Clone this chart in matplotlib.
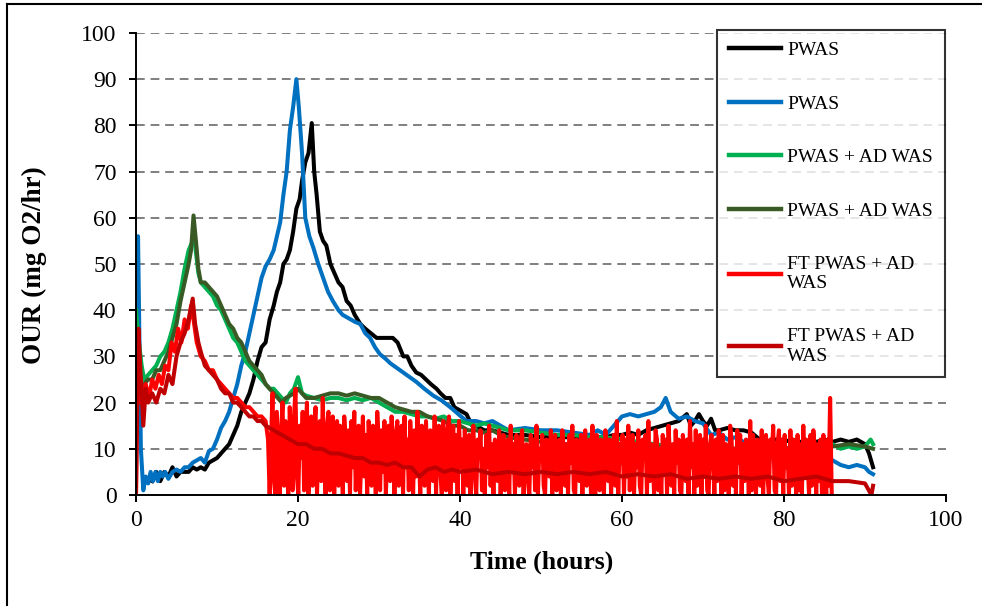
import numpy as np
import matplotlib
matplotlib.use("Agg")
import matplotlib.pyplot as plt

plt.rcParams['font.family'] = ['Liberation Serif', 'DejaVu Serif']

# --- OUR data (time in hours, OUR in mg O2/hr) ---
labels = ["PWAS", "PWAS", "PWAS + AD WAS", "PWAS + AD WAS",
          "FT PWAS + AD\nWAS", "FT PWAS + AD\nWAS"]
colors = ["#000000", "#0070C0", "#00B050", "#3A5A25", "#FF0000", "#C00000"]

pwas1_t = [2, 2.5, 3, 3.5, 4, 4.5, 5, 5.5, 6, 6.5, 7, 7.5, 8, 8.5, 9, 9.5, 10, 10.5, 11, 11.5,
           12, 12.5, 13, 13.5, 14, 14.5, 15, 15.5, 16, 16.5, 17, 17.4, 17.8, 18.2, 18.6, 19, 19.4,
           19.8, 20.2, 20.5, 20.9, 21.3, 21.7, 22, 22.3, 22.7, 23.1, 23.5, 24, 24.5, 25, 25.5, 26,
           26.5, 27, 27.7, 28.3, 29, 29.7, 30.5, 31, 31.7, 32.3, 33, 33.5, 34, 34.6, 35.2, 35.8,
           36.4, 37.1, 37.6, 38.2, 38.8, 39.3, 39.8, 40.3, 40.8, 41.5, 42, 43, 44, 45, 46, 48, 50,
           52, 54, 56, 58, 59, 60, 61, 62, 63, 64, 65, 66, 67, 68, 68.5, 69, 69.5, 70, 70.5, 71,
           71.5, 72, 73, 74, 75, 76, 77, 78, 79, 80, 81, 82, 83, 84, 85, 86, 87, 88, 89, 90, 90.5, 91]
pwas1_v = [3, 5, 3, 5, 4, 6, 4, 5, 5, 5, 6, 5.5, 6, 5.5, 7, 7.5, 8, 9, 10, 11,
           13, 15, 18, 20, 22, 25, 29, 32, 33, 38, 41, 44, 46, 50, 51, 53, 57,
           62, 64, 68, 72, 74, 80.5, 70, 65, 57, 55, 54, 50, 48, 46, 45, 42,
           41, 39, 37, 36, 35, 34, 34, 34, 34, 33, 30, 30, 28, 26.5, 26, 25,
           24, 23, 22, 21, 21, 19, 18.5, 18, 17.5, 15, 15, 14, 14, 13.5, 13, 13, 12.5,
           12.5, 12.5, 12.5, 12.5, 13, 13, 13.5, 13, 14, 14.5, 15, 15.5, 16, 17.5, 15, 16, 17.5, 16, 15, 16.5,
           14, 14, 14.5, 14, 14, 13.5, 12, 11.5, 12, 11.5, 12, 11.5, 11.5, 11.5, 12, 11.5, 12, 11.5, 12, 11, 9, 6]

pwas2_t = [0, 0.1, 0.25, 0.45, 0.6, 0.9, 1.2, 1.5, 1.8, 2.1, 2.4, 2.7, 3, 3.3, 3.6, 4, 4.5, 5, 5.5,
           6, 6.5, 7, 7.5, 8, 8.5, 9, 9.5, 10, 10.5, 11, 11.5, 12, 12.5, 13, 13.5, 14, 14.5, 15,
           15.5, 16, 16.5, 17, 17.4, 17.8, 18.2, 18.6, 19, 19.4, 19.8, 20.1, 20.5, 20.9, 21.4, 21.9,
           22.5, 23.1, 23.7, 24.3, 25, 25.5, 26, 26.5, 27, 27.7, 28.3, 28.9, 29.5, 30.1, 30.8, 31.4,
           32.2, 33, 33.8, 34.6, 35.6, 36.7, 37.7, 38.8, 39.8, 40.8, 42, 43, 44, 45, 46, 48, 50, 52,
           54, 56, 57, 58, 59, 60, 61, 62, 63, 64, 64.8, 65.4, 66, 67, 68, 69, 70, 71, 72, 73, 74,
           75, 76, 77, 78, 79, 80, 82, 84, 86, 87, 88, 89, 90, 90.5, 91]
pwas2_v = [40, 50, 56, 30, 10, 1, 4, 2.5, 5, 3, 5, 3, 5, 4, 5, 3.5, 5, 5.5, 5,
           6, 6, 7, 7.5, 8, 7, 9.5, 10, 12, 14.5, 16, 18, 21, 24, 28, 31, 35, 39, 43,
           47, 49.5, 51, 53, 56, 59, 65, 70, 79, 84, 90, 84, 74, 60, 56, 53.5,
           50, 47, 44, 42, 40, 39, 38.5, 38, 37.5, 37, 35, 34, 32, 30.5, 29.5, 28.5,
           27.5, 26.5, 25.5, 24.5, 23, 21.5, 20.5, 19, 17.5, 16, 16, 15.5, 16, 15, 14, 14.5, 14, 14,
           13.5, 13, 14, 13, 15, 17, 17.5, 17, 17.5, 18, 19, 21, 18, 16.5, 17, 16, 15.5, 13, 13.5, 12, 12.5,
           11.5, 12, 11, 9, 9, 8.5, 8, 8.5, 7.5, 6.5, 6, 6.5, 6, 5, 4.5]

adwas1_t = [0, 0.3, 0.7, 1, 1.5, 2, 2.5, 3, 3.5, 4, 4.5, 5, 5.5, 6, 6.5, 7, 7.3, 7.7, 8, 8.5, 9,
            9.5, 10, 10.5, 11, 11.5, 12, 12.5, 13, 13.5, 14, 14.5, 15, 15.5, 16, 16.5, 17, 17.5,
            18, 18.5, 19, 19.5, 20, 20.5, 21, 22, 23, 24, 25, 26, 27, 28, 29, 30, 31, 32, 33, 34,
            35, 36, 37, 38, 39, 40, 41, 42, 43, 44, 45, 46, 48, 50, 52, 54, 56, 58, 60, 62, 64,
            66, 68, 70, 72, 74, 76, 78, 80, 82, 84, 86, 87, 88, 89, 90, 90.7, 91]
adwas1_v = [40, 34, 28, 25, 26, 27, 28, 30, 31, 33, 36, 40, 44, 49, 53, 55, 54, 48, 46, 45, 44,
            43, 41, 40, 38, 36, 34, 33, 31, 29, 28, 27, 26, 25, 24, 23, 23, 22,
            21, 20, 22, 23, 25.5, 22, 21.5, 21, 20.5, 21, 21, 20.5, 21, 20.5, 21, 20, 19, 18, 18, 17.5,
            17, 17, 16.5, 17, 16, 16, 15.5, 15, 15.5, 15, 14.5, 14, 14, 13.5, 13, 13, 12.5, 12.5, 12, 11.5, 11,
            10.5, 10.5, 10, 10.5, 10, 10, 10.5, 10, 10.5, 10, 11, 10, 10.5, 10, 10.5, 12, 11]

adwas2_t = [0, 0.3, 0.7, 1, 1.5, 2, 2.5, 3, 3.5, 4, 4.5, 5, 5.5, 6, 6.5, 6.8, 7.1, 7.4, 7.7, 8,
            8.5, 9, 9.5, 10, 10.5, 11, 11.5, 12, 12.5, 13, 13.5, 14, 14.5, 15, 15.5, 16, 16.5, 17,
            17.5, 18, 18.5, 19, 19.5, 20, 20.5, 21, 22, 23, 24, 25, 26, 27, 28, 29, 30, 31, 32, 33,
            34, 35, 36, 37, 38, 39, 40, 41, 42, 43, 44, 45, 46, 48, 50, 52, 54, 56, 58, 60, 62, 64,
            66, 68, 70, 72, 74, 76, 78, 80, 82, 84, 86, 88, 90, 91]
adwas2_v = [30, 28, 24, 24, 25, 25, 27, 27, 29, 31, 34, 37, 42, 46, 50, 53, 60.5, 55, 49, 46,
            46, 45, 44, 43, 41, 39, 37, 36, 34, 33, 31, 29, 28, 27, 26, 24, 23, 22,
            21, 20, 21, 21.5, 22, 23, 22, 21, 21, 21.5, 22, 22, 21.5, 22, 21.5, 21, 21, 20, 19, 18.5,
            18, 18, 17, 16.5, 16, 15, 15, 14, 14, 13.5, 14, 13, 12.5, 12, 11.5, 11, 11, 11.5, 11, 10.5, 10, 10.5,
            10, 9.5, 10, 9.5, 10, 9.5, 10.5, 10, 10.5, 10, 10.5, 11, 10.5, 10]

ft1_t = [0, 0.15, 0.35, 0.6, 0.9, 1.2, 1.6, 2, 2.4, 2.8, 3.2, 3.6, 4, 4.4, 4.8, 5.2, 5.6, 6, 6.4,
         6.8, 7.1, 7.5, 8, 8.5, 9, 9.5, 10, 10.5, 11, 11.5, 12, 12.5, 13, 13.5, 14, 14.5, 15, 15.5,
         16, 16.3]
ft1_v = [0, 35, 20, 25, 18, 24, 21, 25, 23, 26, 24, 28, 27, 33, 31, 36, 33, 38, 36,
         41, 38, 33, 30, 29, 27, 27, 25, 24, 23, 22, 21, 21, 20, 19, 19, 18, 17, 17,
         16, 12]
# noisy logger stretch, 16.5 h to 85.4 h
ft1_noise = [
    0, 12, 22, 3, 0, 18, 9, 0, 14, 20, 2, 16, 5, 0, 19, 11, 1, 17, 23, 4,
    0, 15, 8, 18, 1, 13, 20, 0, 6, 17, 2, 14, 19, 0, 10, 16, 3, 21, 7, 0,
    15, 18, 1, 12, 17, 0, 9, 16,
    2, 15, 8, 0, 17, 12, 3, 14, 0, 16, 6, 18, 1, 11, 15, 0, 9, 17, 4, 13,
    0, 16, 10, 2, 15, 7, 0, 18, 12, 1, 14, 5, 16, 0, 9, 15, 3, 17, 11, 0,
    13, 16, 2, 8, 15, 0, 17, 6, 12, 1, 16, 10, 0, 14, 4, 18, 9, 0, 15, 13,
    2, 16, 7, 0, 14, 11, 3, 17, 0, 12, 15, 5, 0, 16, 9, 1, 14, 17, 0, 10,
    15, 3, 13, 0, 16,
    6, 12, 0, 14, 9, 2, 13, 0, 11, 15, 4, 0, 12, 8, 14, 1, 10, 0, 13, 6,
    15, 2, 11, 0, 12, 9, 3, 14, 0, 10, 13, 1, 7, 12, 0, 15, 5, 11, 0, 13,
    8, 2, 12, 14, 0, 9, 11, 3, 0, 13, 6, 12, 1, 15, 0, 10, 8, 13, 2, 0,
    12, 11, 4, 14, 0, 9, 13, 1, 6, 12, 0, 14, 10, 2, 11, 0, 13, 7, 15, 1,
    0, 12, 9, 3, 13, 0, 11, 14, 2, 8, 12, 0, 15, 5, 0, 13, 10, 1, 12, 6,
    0, 14, 11, 3, 12, 0, 9, 13, 2, 16, 0, 11, 7,
    13, 0, 12, 4, 15, 1, 10, 13, 0, 11, 6, 14, 2, 0, 12, 9, 13, 0, 16, 3,
    11, 8, 0, 14, 12, 1, 10, 0, 13, 5, 12, 0, 15, 9, 2, 11, 0, 14, 7, 12,
    1, 0, 13, 10, 3, 12, 0, 16, 6, 11, 0, 14, 2, 9, 13, 0, 12, 4, 15, 1,
    0, 11, 13, 8, 0, 12, 3, 14, 10, 0, 13, 1, 11, 6, 0, 15, 12, 2, 10, 0,
    14, 7, 13, 0, 11, 3, 12, 9, 0, 16, 1, 13, 5, 0, 12, 11, 2, 14, 0, 10,
    13, 4, 0, 12, 8, 15, 1, 0, 11, 14, 3, 12, 0, 13, 6, 10, 0, 14, 2, 12,
    9, 0, 13, 1, 11, 0, 15, 4, 12, 7, 0, 13, 2, 14, 10, 0, 11, 3, 12, 0,
    13, 5, 0, 12]
ft1_end_t = [85.5, 85.7, 85.9]
ft1_end_v = [2, 21, 0]

ft2_t = [0, 0.3, 0.6, 0.9, 1.2, 1.5, 2, 2.5, 3, 3.5, 4, 4.5, 5, 5.5, 6, 6.5, 7, 7.3, 7.7, 8, 8.5,
         9, 9.5, 10, 10.5, 11, 11.5, 12, 12.5, 13, 13.5, 14, 14.5, 15, 15.5, 16, 17, 18, 19, 20,
         21, 22, 23, 24, 25, 26, 27, 28, 29, 30, 31, 32, 33, 34, 35, 36, 37, 38, 39, 40, 42, 44,
         46, 48, 50, 52, 54, 56, 58, 60, 62, 64, 66, 68, 70, 72, 74, 76, 78, 80, 82, 84, 86, 88,
         90, 90.8, 91]
ft2_v = [0, 36, 25, 15, 23, 20, 22, 20, 23, 22, 26, 24, 30, 33, 35, 38, 42.5, 37, 33, 31, 28,
         27, 26, 25, 23, 22, 22, 20, 20, 19, 18, 17, 17, 16, 16, 15, 14, 13, 12, 11,
         11, 10, 10, 9, 9, 8.5, 8, 8, 7, 7, 6.5, 7, 6, 6, 4, 5.5, 6, 5, 5.5, 5, 5.5, 4.5,
         5, 4.5, 5, 4.5, 5, 4.5, 5, 4, 4.5, 4, 4.5, 3.5, 4, 3.5, 4, 3.5, 4, 3, 3.5, 4, 3, 3,
         2.5, 0, 2]

ft1_all_t = ft1_t + list(np.linspace(16.5, 85.4, len(ft1_noise))) + ft1_end_t
ft1_all_v = ft1_v + ft1_noise + ft1_end_v

series = [(pwas1_t, pwas1_v), (pwas2_t, pwas2_v), (adwas1_t, adwas1_v),
          (adwas2_t, adwas2_v), (ft1_all_t, ft1_all_v), (ft2_t, ft2_v)]

fig = plt.figure(figsize=(9.82, 6.06), dpi=100)
ax = fig.add_axes([0.1385, 0.1832, 0.8248, 0.7624])

for (t, v), lab, c in zip(series, labels, colors):
    ax.plot(t, v, color=c, lw=2.9, label=lab)

ax.set_xlim(0, 100)
ax.set_ylim(0, 100)
ax.set_xticks(range(0, 101, 20))
ax.set_yticks(range(0, 101, 10))
ax.yaxis.grid(True, color='#7f7f7f', lw=1.4, linestyle=(0, (4.5, 3)))
ax.set_axisbelow(True)
for s in ['top', 'right']:
    ax.spines[s].set_visible(False)
for s in ['left', 'bottom']:
    ax.spines[s].set_linewidth(1.4)
ax.tick_params(direction='out', length=5, width=1.4, labelsize=17)
ax.tick_params(axis='y', pad=9)
ax.tick_params(axis='x', pad=6)
ax.set_xlabel("Time (hours)", fontsize=18.5, fontweight='bold')
ax.set_ylabel("OUR (mg O2/hr)", fontsize=19.5, fontweight='bold')
ax.xaxis.set_label_coords(0.501, -0.12)
ax.yaxis.set_label_coords(-0.110, 0.498)

leg = ax.legend(loc='upper right', bbox_to_anchor=(0.962, 0.951), bbox_transform=fig.transFigure,
                fontsize=14, frameon=True, fancybox=False, edgecolor='black', borderaxespad=0,
                handlelength=2.7, handletextpad=0.3, labelspacing=1.85, borderpad=0.6)
leg.get_frame().set_linewidth(1.5)
for ln in leg.get_lines():
    ln.set_linewidth(3.2)

# outer chart border
fig.add_artist(plt.Line2D([0.0072, 0.0072], [0, 0.993], transform=fig.transFigure, color='black', lw=1.5))
fig.add_artist(plt.Line2D([0.0072, 1.0], [0.993, 0.993], transform=fig.transFigure, color='black', lw=1.5))

fig.savefig("out.png", dpi=100)
